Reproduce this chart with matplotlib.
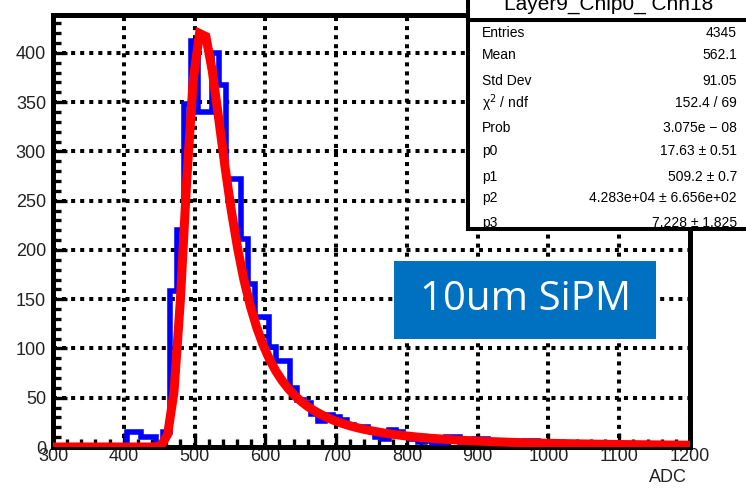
import numpy as np
import matplotlib.pyplot as plt
from matplotlib.ticker import MultipleLocator

plt.rcParams['font.family'] = ['Liberation Sans', 'DejaVu Sans']

# histogram: 10 ADC bins, centres 300..1200
adc_centers = np.arange(300, 1210, 10)
counts = [0, 0, 0, 0, 0, 0, 0, 0, 0, 0, 0,           # 300-400
          15, 15, 10, 10, 1, 15, 158, 220, 348,      # 410-490
          412, 340, 340, 400, 367, 272, 272, 211, 165, 132,  # 500-590
          132, 102, 87, 87, 60, 48, 45, 33, 26, 32,  # 600-690
          30, 27, 22, 20, 20, 16, 10, 8, 17, 15,     # 700-790
          12, 8, 5, 6, 4, 4, 10, 10, 5, 5,           # 800-890
          8, 8, 6, 5, 4, 3, 4, 6, 6, 3,              # 900-990
          3, 0, 1, 2, 3, 2, 2, 1, 1, 2,              # 1000-1090
          2, 2, 1, 1, 0, 1, 1, 1, 1, 1,              # 1100-1190
          0]                                         # 1200

# langaus fit parameters: landau width, MPV, area, gaussian sigma
fit_pars = [17.63, 509.2, 4.283e4, 7.228]

stat_labels = ['Entries', 'Mean', 'Std Dev', 'χ$^{2}$ / ndf', 'Prob',
               'p0', 'p1', 'p2', 'p3']
stat_values = ['4345', '562.1', '91.05', '152.4 / 69', '3.075e − 08',
               '17.63 ± 0.51', '509.2 ± 0.7',
               '4.283e+04 ± 6.656e+02', '7.228 ± 1.825']
stat_rows_y = [33, 55, 81, 103, 128, 151, 177, 198, 223]


def landau(lam):
    # standard Landau density via its Fourier integral
    t = np.linspace(0, 25, 12501)
    tlogt = t * np.log(np.where(t > 0, t, 1.0))
    damp = np.exp(-np.pi * t / 2)
    out = np.empty_like(lam)
    for i in range(0, len(lam), 200):
        chunk = lam[i:i + 200, None]
        f = damp * np.cos(chunk * t + tlogt)
        out[i:i + 200] = np.trapezoid(f, t, axis=1) / np.pi
    return np.clip(out, 0, None)


def langaus(x, width, mpv, area, gsigma):
    mpc = mpv + 0.22278298 * width
    step = 0.5
    grid = np.arange(x.min() - 60, x.max() + 60, step)
    land = landau((grid - mpc) / width) / width
    half = int(5 * gsigma / step)
    k = np.arange(-half, half + 1) * step
    gk = np.exp(-0.5 * (k / gsigma) ** 2)
    gk /= gk.sum()
    conv = np.convolve(land, gk, mode='same')
    return area * np.interp(x, grid, conv)


W, H = 746, 488
fig = plt.figure(figsize=(W / 100, H / 100), dpi=100)
ax = fig.add_axes([53 / W, 1 - 447 / H, (690 - 53) / W, (447 - 15) / H])

edges = np.append(adc_centers - 5, adc_centers[-1] + 5)
ax.stairs(counts, edges, color='#0000ff', lw=4.0, baseline=None, zorder=3)

xf = np.linspace(300, 1200, 101)
yf = langaus(xf, *fit_pars)
ax.plot(xf, yf, color='#ff0000', lw=6.5, solid_joinstyle='miter', zorder=4)

ax.set_xlim(300, 1200)
ax.set_ylim(0, 438.5)
ax.xaxis.set_major_locator(MultipleLocator(100))
ax.xaxis.set_minor_locator(MultipleLocator(20))
ax.yaxis.set_major_locator(MultipleLocator(50))
ax.yaxis.set_minor_locator(MultipleLocator(10))
ax.grid(True, which='major', color='k', linestyle=(0, (1, 1.25)), lw=2.9)
ax.set_axisbelow(True)
ax.tick_params(which='both', direction='in', top=False, right=False,
               width=2.4, labelsize=13, labelcolor='#222222')
ax.tick_params(which='major', length=10)
ax.tick_params(which='minor', length=5.5)
ax.tick_params(axis='x', pad=1)
ax.tick_params(axis='y', pad=5)
for s in ax.spines.values():
    s.set_linewidth(3.6)

fig.text(687 / W, 1 - 477 / H, 'ADC', ha='right', va='center', fontsize=13,
         color='#222222')

# stats box
sax = fig.add_axes([468 / W, 1 - 229 / H, (770 - 468) / W, (229 - 20) / H])
sax.set_xticks([])
sax.set_yticks([])
for s in sax.spines.values():
    s.set_linewidth(2.9)
for lab, val, yy in zip(stat_labels, stat_values, stat_rows_y):
    fig.text(482 / W, 1 - yy / H, lab, ha='left', va='center', fontsize=10)
    fig.text(737 / W, 1 - yy / H, val, ha='right', va='center', fontsize=10)

# title box above it
tax = fig.add_axes([468 / W, 1 - 20 / H, (770 - 468) / W, 40 / H])
tax.set_xticks([])
tax.set_yticks([])
for s in tax.spines.values():
    s.set_linewidth(2.9)
fig.text(609 / W, 1 - 4 / H, 'Layer9_Chip0_ Chn18', ha='center', va='center',
         fontsize=15)

# label box
lax = fig.add_axes([394 / W, 1 - 339 / H, (656 - 394) / W, (339 - 261) / H])
lax.set_facecolor('#0070c0')
lax.set_xticks([])
lax.set_yticks([])
for s in lax.spines.values():
    s.set_visible(False)
lax.text(0.5, 0.5, '10um SiPM', ha='center', va='center', fontsize=29,
         color='white', family=['Open Sans', 'DejaVu Sans'],
         transform=lax.transAxes)

fig.savefig('out.png', dpi=100)
